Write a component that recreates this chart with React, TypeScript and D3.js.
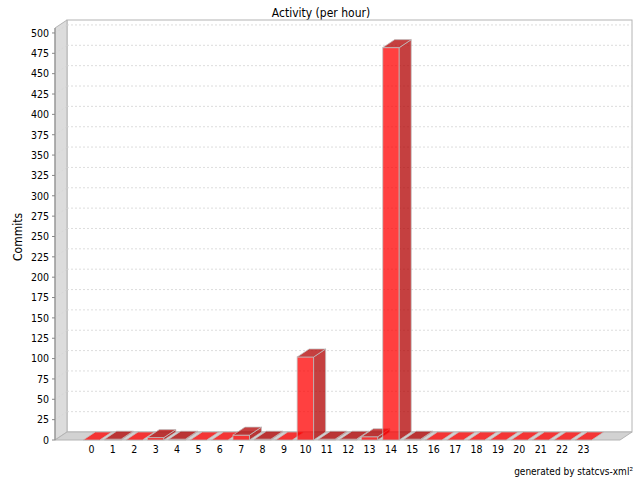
import React from "react";
import * as d3 from "d3";

// Commits per hour of day
const hours: string[] = Array.from({ length: 24 }, (_, i) => String(i));
const commits: number[] = [0, 1, 0, 3, 1, 0, 0, 6, 1, 0, 102, 1, 1, 4, 482, 1, 0, 0, 0, 0, 0, 0, 0, 0];
const yTicks: number[] = d3.range(0, 501, 25);

const title = "Activity (per hour)";
const yLabel = "Commits";
const footer = "generated by statcvs-xml²";

const W = 640;
const H = 480;
// front data area and 3D depth offset
const left = 55;
const right = 620;
const top = 28;
const bottom = 440;
const dx = 12;
const dy = 8;

const FONT = "'DejaVu Sans Condensed', 'DejaVu Sans', sans-serif";

export default function App() {
  const yMax = d3.max(commits)! * 1.05;
  const y = d3.scaleLinear().domain([0, yMax]).range([bottom, top]);
  const x = d3
    .scaleBand<string>()
    .domain(hours)
    .range([left, right])
    .paddingInner(0.2296)
    .paddingOuter(1.32);
  const bw = x.bandwidth();

  const poly = (pts: [number, number][]) => pts.map((p) => p.join(",")).join(" ");

  const red = "rgb(255,0,0)";
  const darkRed = "rgb(178,0,0)";
  const alpha = 0.75;
  const outline = "rgb(192,192,192)";

  return (
    <svg
      width={W}
      height={H}
      style={{ position: "absolute", left: 0, top: 0, background: "#fff" }}
      fontFamily={FONT}
    >
      <rect x={0} y={0} width={W} height={H} fill="#fff" />
      {/* title */}
      <text x={321} y={17} textAnchor="middle" fontSize={12} fill="#000">
        {title}
      </text>

      {/* back wall */}
      <rect
        x={left + dx}
        y={top - dy}
        width={right - left}
        height={bottom - top}
        fill="#fff"
        stroke="#b4b4b4"
        strokeWidth={1}
      />
      {/* left wall */}
      <polygon
        points={poly([
          [left, top],
          [left + dx, top - dy],
          [left + dx, bottom - dy],
          [left, bottom],
        ])}
        fill="#dcdcdc"
        stroke="#b4b4b4"
      />
      {/* floor */}
      <polygon
        points={poly([
          [left, bottom],
          [left + dx, bottom - dy],
          [right + dx, bottom - dy],
          [right, bottom],
        ])}
        fill="#d2d2d2"
        stroke="#b4b4b4"
      />

      {/* gridlines */}
      {yTicks
        .filter((t) => t > 0)
        .map((t) => (
          <g key={"g" + t} stroke="#d4d4d4" strokeWidth={0.8} strokeDasharray="2,2">
            <line x1={left + dx} x2={right + dx} y1={y(t) - dy} y2={y(t) - dy} />
            <line x1={left} x2={left + dx} y1={y(t)} y2={y(t) - dy} />
          </g>
        ))}

      {/* bars */}
      {commits.map((v, i) => {
        const x0 = x(hours[i])!;
        const x1 = x0 + bw;
        const yt = y(v);
        const yb = y(0);
        const len = yb - yt;
        const topFill = len > 0 ? darkRed : red;
        return (
          <g key={"b" + i} stroke={outline} strokeOpacity={alpha} strokeWidth={1}>
            {len > 0 && (
              <rect x={x0} y={yt} width={bw} height={len} fill={red} fillOpacity={alpha} />
            )}
            {len > 0 && (
              <polygon
                points={poly([
                  [x1, yt],
                  [x1 + dx, yt - dy],
                  [x1 + dx, yb - dy],
                  [x1, yb],
                ])}
                fill={darkRed}
                fillOpacity={alpha}
              />
            )}
            <polygon
              points={poly([
                [x0, yt],
                [x0 + dx, yt - dy],
                [x1 + dx, yt - dy],
                [x1, yt],
              ])}
              fill={topFill}
              fillOpacity={alpha}
            />
          </g>
        );
      })}

      {/* y axis */}
      <line x1={left} x2={left} y1={top} y2={bottom} stroke="#888" />
      {yTicks.map((t) => (
        <g key={"t" + t}>
          <line x1={left - 3} x2={left} y1={y(t)} y2={y(t)} stroke="#888" />
          <text x={49} y={y(t) + 3.8} textAnchor="end" fontSize={10.5} fill="#000">
            {t}
          </text>
        </g>
      ))}
      <text
        transform={`translate(22,${(top + bottom) / 2 + 3}) rotate(-90)`}
        textAnchor="middle"
        fontSize={12}
        fill="#000"
      >
        {yLabel}
      </text>

      {/* category labels */}
      {hours.map((h) => (
        <text
          key={"c" + h}
          x={x(h)! + bw / 2}
          y={453}
          textAnchor="middle"
          fontSize={10.5}
          fill="#000"
        >
          {h}
        </text>
      ))}

      {/* footer */}
      <text x={633} y={475} textAnchor="end" fontSize={10} fill="#000">
        {footer}
      </text>
    </svg>
  );
}
